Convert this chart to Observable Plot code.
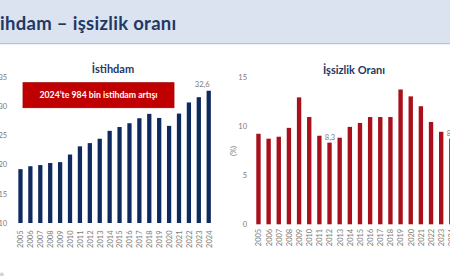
<!DOCTYPE html>
<html>
<head>
<meta charset="utf-8">
<script src="https://cdn.jsdelivr.net/npm/d3@7"></script>
<script src="https://cdn.jsdelivr.net/npm/@observablehq/plot@0.6"></script>
<style>
  html, body { margin: 0; padding: 0; background: #fff; }
  body { width: 450px; height: 280px; overflow: hidden; position: relative; font-family: Lato, "Open Sans", sans-serif; }
  #deco { position: absolute; left: 0; top: 0; }
  #left { position: absolute; left: 0; top: 60px; width: 225px; height: 200px; }
  #right { position: absolute; left: 225px; top: 60px; width: 240px; height: 200px; }
  #left svg, #right svg { max-width: none !important; }
</style>
</head>
<body>
<svg id="deco" width="450" height="280">
  <rect x="0" y="0" width="450" height="43" fill="#dbe3f0"></rect>
  <rect x="0" y="43" width="450" height="1.2" fill="#b7c2d6"></rect>
  <text x="0" y="29.5" font-family="Lato, sans-serif" font-weight="700" font-size="18.5" letter-spacing="0.3" fill="#1f3864">ihdam – işsizlik oranı</text>
  <text x="113" y="73" text-anchor="middle" font-family="Lato, sans-serif" font-weight="700" font-size="11" fill="#1f3864">İstihdam</text>
  <text x="354" y="74" text-anchor="middle" font-family="Lato, sans-serif" font-weight="700" font-size="11" fill="#1f3864">İşsizlik Oranı</text>
  <rect x="23" y="82.7" width="151" height="25" fill="#c00000" stroke="#a30000" stroke-width="0.8"></rect>
  <text x="98.5" y="97.8" text-anchor="middle" font-family="Lato, sans-serif" font-weight="700" font-size="8.7" fill="#ffffff">2024’te 984 bin istihdam artışı</text>
  <text x="0" y="276" font-family="Lato, sans-serif" font-size="5" fill="#9a9a9a">ık</text>
</svg>
<div id="left"></div>
<div id="right"></div>
<script>
const years = ["2005","2006","2007","2008","2009","2010","2011","2012","2013","2014","2015","2016","2017","2018","2019","2020","2021","2022","2023","2024"];
const istihdam = [19.2,19.7,19.9,20.25,20.4,21.7,23.1,23.65,24.4,25.75,26.4,27.05,27.9,28.65,27.95,26.6,28.7,30.6,31.5,32.6];
const issizlik = [9.2,8.7,8.9,9.8,12.9,10.9,9.0,8.3,8.8,9.9,10.3,10.9,10.9,10.9,13.7,13.0,12.0,10.4,9.4,8.7];
const leftTicks = [10,15,20,25,30,35];
const rightTicks = [0,5,10,15];
const leftLabelYears = ["2024"];
const leftLabelTexts = ["32,6"];
const rightLabelYears = ["2012","2024"];
const rightLabelTexts = ["8,3","8,7"];

const leftData = years.map((y, i) => ({year: y, value: istihdam[i]}));
const rightData = years.map((y, i) => ({year: y, value: issizlik[i]}));
const leftLabels = leftLabelYears.map((y, i) => ({year: y, value: istihdam[years.indexOf(y)], text: leftLabelTexts[i]}));
const rightLabels = rightLabelYears.map((y, i) => ({year: y, value: issizlik[years.indexOf(y)], text: rightLabelTexts[i]}));

const font = "Lato, 'Open Sans', sans-serif";

const left = Plot.plot({
  width: 225, height: 200,
  marginTop: 16.7, marginBottom: 37, marginLeft: 12.7, marginRight: 8.5,
  style: {fontSize: "7.5px", fontFamily: font, color: "#7a7a7a", background: "transparent", overflow: "visible", maxWidth: "none"},
  x: {domain: years, padding: 0.57, round: false, label: null, tickSize: 0, tickRotate: -90, tickPadding: 7},
  y: {domain: [10, 35], ticks: leftTicks, label: null, tickSize: 0, tickPadding: 6},
  marks: [
    Plot.barY(leftData, {x: "year", y1: 10, y2: "value", fill: "#0f2a5e"}),
    Plot.text(leftLabels, {x: "year", y: "value", text: "text", dx: -7, dy: -7, fill: "#7a7a7a", fontSize: 7.5})
  ]
});
document.getElementById("left").append(left);

const right = Plot.plot({
  width: 240, height: 200,
  marginTop: 16.7, marginBottom: 35.7, marginLeft: 25.5, marginRight: 5.7,
  style: {fontSize: "7.5px", fontFamily: font, color: "#7a7a7a", background: "transparent", overflow: "visible", maxWidth: "none"},
  x: {domain: years, padding: 0.57, round: false, label: null, tickSize: 0, tickRotate: -90, tickPadding: 4},
  y: {domain: [0, 15], ticks: rightTicks, tickSize: 0, tickPadding: 4, label: "(%)", labelAnchor: "center", labelOffset: 20, labelArrow: "none"},
  marks: [
    Plot.barY(rightData, {x: "year", y: "value", fill: "#a8101b"}),
    Plot.text(rightLabels, {x: "year", y: "value", text: "text", dy: -6, fill: "#7a7a7a", fontSize: 7.5})
  ]
});
document.getElementById("right").append(right);
</script>
</body>
</html>
